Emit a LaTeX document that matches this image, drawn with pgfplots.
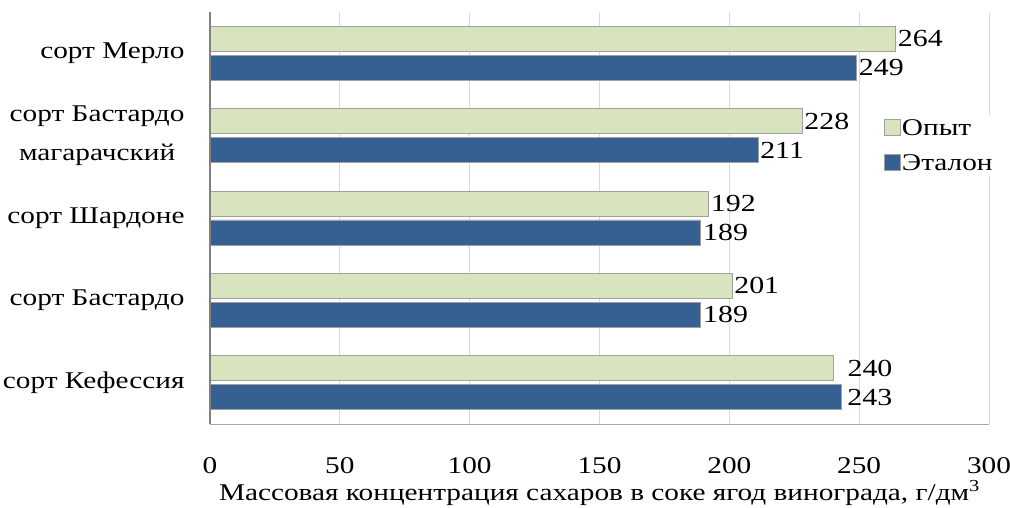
\documentclass[border=0pt]{standalone}
\usepackage{pgfplots}
\pgfplotsset{compat=1.18}
\usepackage{pgfplotstable}
\usepackage{fontspec}
\setmainfont[FakeStretch=1.22]{Liberation Serif}
\definecolor{opyt}{HTML}{D7E4BD}
\definecolor{etalon}{HTML}{376092}
\definecolor{bord}{HTML}{A0A0A0}
\definecolor{gridc}{HTML}{D9D9D9}
\definecolor{axc}{HTML}{A6A6A6}

% y: 1 = Кефессия (bottom) ... 5 = Мерло (top)
\pgfplotstableread{
y x dx
1 240 12
2 201 0
3 192 0
4 228 0
5 264 0
}\opyt
\pgfplotstableread{
y x dx
1 243 4
2 189 0
3 189 0
4 211 0
5 249 0
}\etalon

\begin{document}
\begin{tikzpicture}[font=\fontsize{24bp}{39bp}\selectfont]
\path[use as bounding box] (-210bp,-84bp) rectangle (800bp,424bp);
\begin{axis}[
  at={(0,0)}, anchor=south west,
  scale only axis,
  width=779bp, height=412bp,
  xbar,
  xmin=0, xmax=300,
  ymin=0.5, ymax=5.5,
  xtick={0,50,...,300},
  ytick={1,2,3,4,5},
  yticklabels={сорт Кефессия, сорт Бастардо, сорт Шардоне, {сорт Бастардо\\магарачский}, сорт Мерло},
  yticklabel style={align=center, xshift=-22bp},
  xticklabel style={yshift=-30bp, font=\fontsize{24bp}{26bp}\selectfont},
  /pgf/number format/assume math mode=true,
  major tick length=0pt,
  xmajorgrids,
  grid style={gridc, line width=1pt},
  axis line style={draw=none},
  xlabel={Массовая концентрация сахаров в соке ягод винограда, г/дм\textsuperscript{3}},
  xlabel style={yshift=0bp, font=\fontsize{24bp}{26bp}\selectfont},
  clip=false,
  nodes near coords,
  nodes near coords style={anchor=west, inner sep=2bp, xshift=\dx bp, font=\fontsize{24.5bp}{26bp}\selectfont},
  visualization depends on={\thisrow{dx} \as \dx},
  legend style={at={(axis description cs:0.862,0.748)}, anchor=north west, draw=none, fill=white,
    font=\fontsize{24bp}{26bp}\selectfont, row sep=15bp, inner sep=2bp,
    nodes={inner sep=1.5bp}},
  legend cell align=left,
  legend image code/.code={\draw[#1, draw=bord] (0bp,-7bp) rectangle (16bp,9bp);},
]
\draw[axc, line width=1pt] (rel axis cs:0,0) -- (rel axis cs:1,0);
\addplot[fill=opyt, draw=bord, line width=0.8pt, bar width=25bp, bar shift=14.5bp] table[x=x, y=y] {\opyt};
\addplot[fill=etalon, draw=bord, line width=0.8pt, bar width=25bp, bar shift=-14.5bp] table[x=x, y=y] {\etalon};
\draw[gray, line width=1.3pt] (rel axis cs:0,0) -- (rel axis cs:0,1);
\legend{Опыт, Эталон}
\end{axis}
\end{tikzpicture}
\end{document}
